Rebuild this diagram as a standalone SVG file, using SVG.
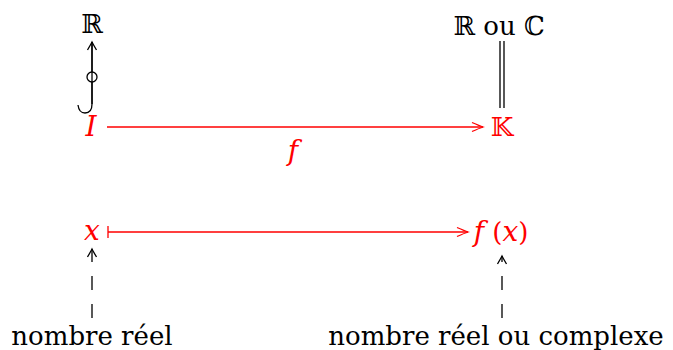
<svg xmlns="http://www.w3.org/2000/svg" width="673" height="350" viewBox="0 0 673 350">
<style>
text{font-family:"DejaVu Serif","Liberation Serif",serif;font-size:26px}
.k{fill:#000}
.r{fill:#ff0000}
.m{font-style:italic;font-size:28px}
.ln{fill:none;stroke-width:1.3}
.blk{stroke:#000}
.red{stroke:#ff0000}
</style>
<defs>
<marker id="ab" markerWidth="12" markerHeight="14" viewBox="-10 -7 12 14" refX="0" refY="0" orient="auto" markerUnits="userSpaceOnUse">
<path d="M-8,-4.5 Q-2,-1 0,0 Q-2,1 -8,4.5" fill="none" stroke="#000" stroke-width="1.3"/>
</marker>
<marker id="ar" markerWidth="16" markerHeight="12" viewBox="-14 -6 16 12" refX="0" refY="0" orient="auto" markerUnits="userSpaceOnUse">
<path d="M-11,-4.5 Q-3,-1 0,0 Q-3,1 -11,4.5" fill="none" stroke="#ff0000" stroke-width="1.3"/>
</marker>
</defs>
<g id="nodeR"><text class="k" x="92" y="33" text-anchor="middle" font-size="28">ℝ</text></g>
<g id="nodeRC"><text class="k" x="499" y="35" text-anchor="middle" font-size="28">ℝ ou ℂ</text></g>
<g id="nodeI"><text class="r m" x="91" y="136" text-anchor="middle">I</text></g>
<g id="nodeK"><text class="r" x="502" y="136" text-anchor="middle" font-size="28">𝕂</text></g>
<g id="nodex"><text class="r m" x="92" y="240" text-anchor="middle">x</text></g>
<g id="nodefx"><text class="r" x="501" y="241" text-anchor="middle" font-size="28"><tspan class="m">f</tspan> (<tspan class="m">x</tspan>)</text></g>
<g id="labelf"><text class="r m" x="293" y="160" text-anchor="middle" font-size="22">f</text></g>
<g id="nodeNR"><text class="k" x="92" y="345" text-anchor="middle">nombre réel</text></g>
<g id="nodeNRC"><text class="k" x="496" y="345" text-anchor="middle">nombre réel ou complexe</text></g>
<g id="connectors">
<path class="ln blk" d="M92,42 L92,72 M92,82 L92,104 Q92,113 85,113 Q79,113 78,105"/>
<path class="ln blk" d="M92,104 L92,42" marker-end="url(#ab)"/>
<circle cx="92" cy="77" r="5" fill="none" stroke="#000" stroke-width="1.3"/>
<path class="ln blk" d="M500,41 L500,108 M504,41 L504,108"/>
<path class="ln red" d="M107,127 L483,127" marker-end="url(#ar)"/>
<path class="ln red" d="M108,226 L108,238 M108,232 L468,232" marker-end="url(#ar)"/>
<path class="ln blk" d="M92,318 L92,249" stroke-dasharray="14 14" marker-end="url(#ab)"/>
<path class="ln blk" d="M502,318 L502,256" stroke-dasharray="14 14" marker-end="url(#ab)"/>
</g>
</svg>
